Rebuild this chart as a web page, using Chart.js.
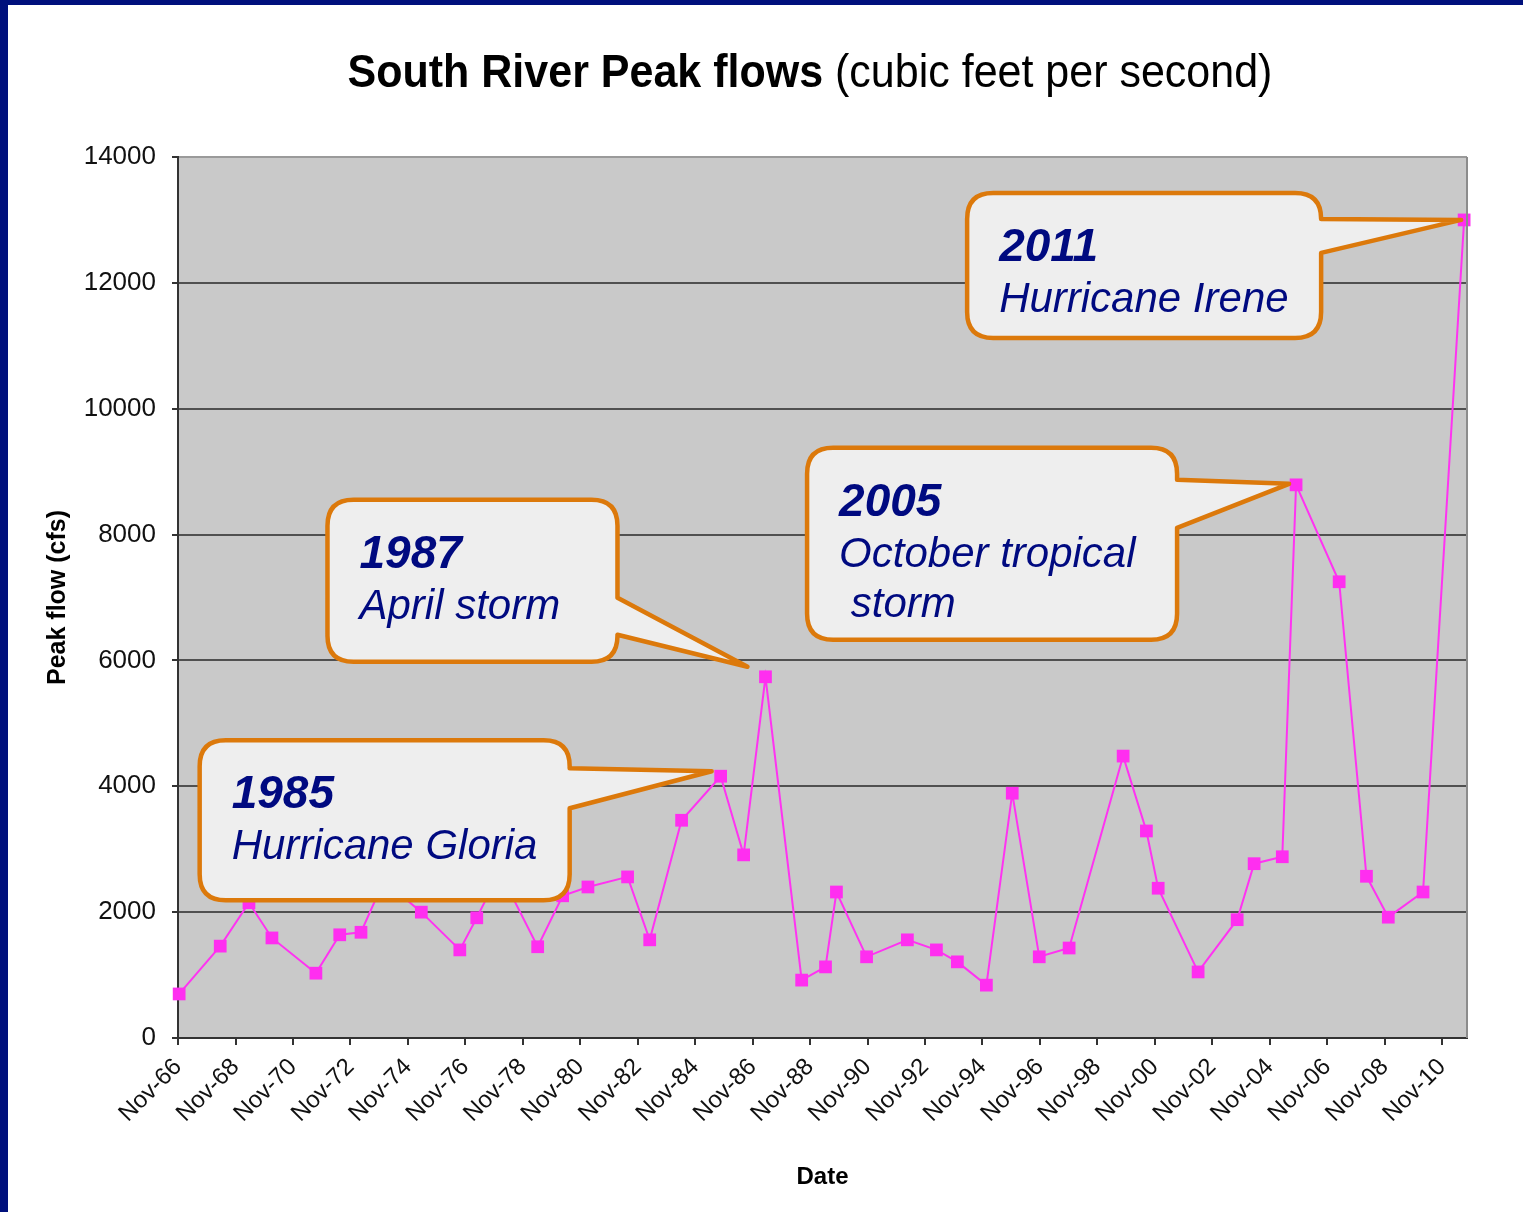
<!DOCTYPE html>
<html>
<head>
<meta charset="utf-8">
<script src="https://cdn.jsdelivr.net/npm/chart.js@4.4.1/dist/chart.umd.min.js"></script>
<style>
  html, body { margin: 0; padding: 0; background: #fff; }
  #wrap { width: 1523px; height: 1212px; }
</style>
</head>
<body>
<div id="wrap"><canvas id="chart" width="1523" height="1212"></canvas></div>
<script>
// peak dates as decimal years
const peakYears = [1966.87, 1968.3, 1969.3, 1970.1, 1971.63, 1972.46, 1973.2, 1974.0, 1975.3,
  1976.64, 1977.23, 1978.03, 1979.35, 1980.22, 1981.1, 1982.48, 1983.25, 1984.36, 1985.72,
  1986.52, 1987.28, 1988.54, 1989.37, 1989.75, 1990.8, 1992.22, 1993.23, 1993.96, 1994.97,
  1995.87, 1996.81, 1997.85, 1999.73, 2000.54, 2000.95, 2002.34, 2003.7, 2004.29, 2005.27,
  2005.75, 2007.25, 2008.2, 2008.96, 2010.17, 2011.6];
const peakFlows = [700, 1460, 2150, 1590, 1030, 1640, 1680, 2500, 2000,
  1400, 1910, 2640, 1450, 2260, 2400, 2560, 1560, 3460, 4160,
  2910, 5740, 920, 1130, 2320, 1290, 1560, 1400, 1210, 840,
  3890, 1290, 1430, 4480, 3290, 2380, 1050, 1880, 2770, 2880,
  8790, 7250, 2570, 1920, 2320, 13000];

const xTickLabels = ['Nov-66', 'Nov-68', 'Nov-70', 'Nov-72', 'Nov-74', 'Nov-76', 'Nov-78',
  'Nov-80', 'Nov-82', 'Nov-84', 'Nov-86', 'Nov-88', 'Nov-90', 'Nov-92', 'Nov-94', 'Nov-96',
  'Nov-98', 'Nov-00', 'Nov-02', 'Nov-04', 'Nov-06', 'Nov-08', 'Nov-10'];

// callouts: which point they mark, and their text
const calloutIndex = [18, 20, 39, 44];
const calloutYear = ['1985', '1987', '2005', '2011'];
const calloutLines = [['Hurricane Gloria'], ['April storm'], ['October tropical', ' storm'], ['Hurricane Irene']];

const FONT = '"Liberation Sans", Arial, Helvetica, sans-serif';

function labelToYear(lbl) {
  const yy = parseInt(lbl.slice(4), 10);
  return (yy > 50 ? 1900 : 2000) + yy + 10 / 12;
}

// box layout for each callout, in pixels relative to the marked point
const calloutBoxes = [
  { dx: -521, dy: -36, w: 370, h: 160, b1: 28, b2: 68, tx: -9, ty: -5 },
  { dx: -438, dy: -177, w: 290, h: 162, b1: 98, b2: 135, tx: -18, ty: -10 },
  { dx: -489, dy: -37, w: 370, h: 192, b1: 32, b2: 80, tx: -7, ty: -1 },
  { dx: -497, dy: -27, w: 354, h: 145, b1: 25, b2: 60, tx: -3, ty: 0 }
];

const decor = {
  id: 'decor',
  beforeDraw(chart) {
    const { ctx, chartArea: a } = chart;
    ctx.save();
    ctx.fillStyle = '#ffffff';
    ctx.fillRect(0, 0, chart.width, chart.height);
    ctx.fillStyle = '#c9c9c9';
    ctx.fillRect(a.left, a.top, a.right - a.left, a.bottom - a.top);
    // slide frame
    ctx.fillStyle = '#00107c';
    ctx.fillRect(0, 0, chart.width, 5);
    ctx.fillRect(0, 0, 8, chart.height);
    ctx.restore();
  },
  afterDraw(chart) {
    const { ctx, chartArea: a } = chart;
    ctx.save();
    ctx.strokeStyle = '#8c8c8c';
    ctx.lineWidth = 2;
    ctx.beginPath();
    ctx.moveTo(a.right, a.top);
    ctx.lineTo(a.right, a.bottom);
    ctx.stroke();

    // title, bold part + regular part
    const boldPart = 'South River Peak flows';
    const normPart = ' (cubic feet per second)';
    ctx.fillStyle = '#000';
    ctx.textBaseline = 'alphabetic';
    ctx.translate(0, 87);
    ctx.scale(1, 1.08);
    ctx.font = 'bold 43px ' + FONT;
    const w1 = ctx.measureText(boldPart).width;
    ctx.font = '43px ' + FONT;
    const w2 = ctx.measureText(normPart).width;
    const x0 = 810 - (w1 + w2) / 2;
    ctx.font = 'bold 43px ' + FONT;
    ctx.fillText(boldPart, x0, 0);
    ctx.font = '43px ' + FONT;
    ctx.fillText(normPart, x0 + w1, 0);
    ctx.restore();
  },
  afterDatasetsDraw(chart) {
    const { ctx, scales } = chart;
    ctx.save();
    calloutIndex.forEach((idx, i) => {
      const px = scales.x.getPixelForValue(peakYears[idx]);
      const py = scales.y.getPixelForValue(peakFlows[idx]);
      const b = calloutBoxes[i];
      const L = px + b.dx, T = py + b.dy, R = L + b.w, B = T + b.h, r = 26;
      const tipX = px + b.tx, tipY = py + b.ty;
      const bt = Math.max(T + b.b1, T + r);
      ctx.beginPath();
      ctx.moveTo(L + r, T);
      ctx.lineTo(R - r, T);
      ctx.quadraticCurveTo(R, T, R, T + r);
      ctx.lineTo(R, bt);
      ctx.lineTo(tipX, tipY);
      ctx.lineTo(R, T + b.b2);
      ctx.lineTo(R, B - r);
      ctx.quadraticCurveTo(R, B, R - r, B);
      ctx.lineTo(L + r, B);
      ctx.quadraticCurveTo(L, B, L, B - r);
      ctx.lineTo(L, T + r);
      ctx.quadraticCurveTo(L, T, L + r, T);
      ctx.closePath();
      ctx.fillStyle = '#eeeeee';
      ctx.fill();
      ctx.lineWidth = 4.5;
      ctx.lineJoin = 'round';
      ctx.strokeStyle = '#dc790b';
      ctx.stroke();

      ctx.fillStyle = '#000a80';
      ctx.textBaseline = 'alphabetic';
      ctx.font = 'italic bold 46px ' + FONT;
      ctx.fillText(calloutYear[i], L + 32, T + 68);
      ctx.font = 'italic 42px ' + FONT;
      calloutLines[i].forEach((line, k) => {
        ctx.fillText(line, L + 32, T + 119 + k * 50);
      });
    });
    ctx.restore();
  }
};

new Chart(document.getElementById('chart'), {
  type: 'line',
  data: {
    datasets: [{
      label: 'Peak flow',
      data: peakYears.map((yr, i) => ({ x: yr, y: peakFlows[i] })),
      borderColor: '#ff33f2',
      backgroundColor: '#ff2ef0',
      borderWidth: 2,
      tension: 0,
      pointStyle: 'rect',
      pointRadius: 9,
      pointBorderWidth: 0,
      clip: false
    }]
  },
  plugins: [decor],
  options: {
    responsive: false,
    animation: false,
    layout: { padding: { top: 157, right: 56, left: 0, bottom: 0 } },
    plugins: { legend: { display: false }, tooltip: { enabled: false }, title: { display: false } },
    scales: {
      x: {
        type: 'linear',
        min: 1966.83,
        max: 2011.7,
        afterFit(scale) { scale.height = 174; },
        afterBuildTicks(scale) {
          scale.ticks = xTickLabels.map(l => ({ value: labelToYear(l), label: l }));
        },
        ticks: {
          autoSkip: false,
          maxRotation: 45,
          minRotation: 45,
          padding: 8,
          color: '#111',
          font: { family: FONT, size: 24 },
          callback(value, index) { return xTickLabels[index]; }
        },
        grid: { drawOnChartArea: false, drawTicks: true, tickLength: 7, tickColor: '#333', lineWidth: 2 },
        border: { display: true, color: '#333', width: 2 },
        title: {
          display: true, text: 'Date', color: '#000',
          font: { family: FONT, size: 24, weight: 'bold' },
          padding: { bottom: 20, top: 0 }
        }
      },
      y: {
        min: 0,
        max: 14000,
        afterFit(scale) { scale.width = 178; },
        ticks: {
          stepSize: 2000,
          padding: 16,
          color: '#111',
          font: { family: FONT, size: 26 },
          callback(v) { return String(v); }
        },
        grid: {
          color: ctx => ctx.tick && ctx.tick.value === 14000 ? '#9a9a9a' : '#505050',
          lineWidth: 2,
          tickLength: 6,
          tickColor: '#333'
        },
        border: { display: true, color: '#333', width: 2 },
        title: {
          display: true, text: 'Peak flow (cfs)', color: '#000',
          font: { family: FONT, size: 25, weight: 'bold' },
          padding: { top: 43, bottom: 0 }
        }
      }
    }
  }
});
</script>
</body>
</html>
